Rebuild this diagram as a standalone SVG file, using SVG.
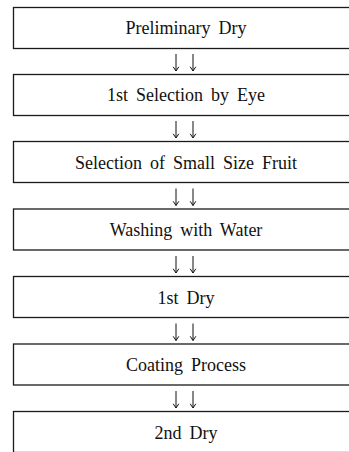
<svg xmlns="http://www.w3.org/2000/svg" width="349" height="452" viewBox="0 0 349 452">
  <style>
    .box { fill: #ffffff; stroke: #1a1a1a; stroke-width: 1.3; }
    .lbl { font-family: "Liberation Serif", "Times New Roman", serif; font-size: 18px; fill: #111111; text-anchor: middle; word-spacing: 3.5px; }
    .arr { stroke: #111111; stroke-width: 1; fill: none; }
  </style>
  <defs>
    <!-- small open V head, drawn pointing down (no rotation needed) -->
    <marker id="head" viewBox="0 0 8 6" refX="4" refY="5.2" markerWidth="8" markerHeight="6" markerUnits="userSpaceOnUse">
      <path d="M1.2,1 L4,5.2 L6.8,1" fill="none" stroke="#111111" stroke-width="1"/>
    </marker>
  </defs>
  <rect width="349" height="452" fill="#ffffff"/>

  <g id="n1"><rect class="box" x="13.5" y="7.5" width="350" height="41"/><text class="lbl" x="186" y="34">Preliminary Dry</text></g>
  <g id="n2"><rect class="box" x="13.5" y="74.5" width="350" height="41"/><text class="lbl" x="186" y="101">1st Selection by Eye</text></g>
  <g id="n3"><rect class="box" x="13.5" y="141.5" width="350" height="41"/><text class="lbl" x="186" y="168.5">Selection of Small Size Fruit</text></g>
  <g id="n4"><rect class="box" x="13.5" y="209" width="350" height="41"/><text class="lbl" x="186" y="236">Washing with Water</text></g>
  <g id="n5"><rect class="box" x="13.5" y="276.5" width="350" height="41"/><text class="lbl" x="186" y="303.5">1st Dry</text></g>
  <g id="n6"><rect class="box" x="13.5" y="344" width="350" height="41"/><text class="lbl" x="186" y="371">Coating Process</text></g>
  <g id="n7"><rect class="box" x="13.5" y="411.5" width="350" height="41"/><text class="lbl" x="186" y="438.5">2nd Dry</text></g>

  <!-- paired down-arrows between consecutive steps -->
  <g id="connectors">
    <line class="arr" marker-end="url(#head)" x1="176" y1="54" x2="176" y2="71"/>
    <line class="arr" marker-end="url(#head)" x1="193" y1="54" x2="193" y2="71"/>
    <line class="arr" marker-end="url(#head)" x1="176" y1="121" x2="176" y2="138"/>
    <line class="arr" marker-end="url(#head)" x1="193" y1="121" x2="193" y2="138"/>
    <line class="arr" marker-end="url(#head)" x1="176" y1="188.5" x2="176" y2="205.5"/>
    <line class="arr" marker-end="url(#head)" x1="193" y1="188.5" x2="193" y2="205.5"/>
    <line class="arr" marker-end="url(#head)" x1="176" y1="256" x2="176" y2="273"/>
    <line class="arr" marker-end="url(#head)" x1="193" y1="256" x2="193" y2="273"/>
    <line class="arr" marker-end="url(#head)" x1="176" y1="323.5" x2="176" y2="340.5"/>
    <line class="arr" marker-end="url(#head)" x1="193" y1="323.5" x2="193" y2="340.5"/>
    <line class="arr" marker-end="url(#head)" x1="176" y1="391" x2="176" y2="408"/>
    <line class="arr" marker-end="url(#head)" x1="193" y1="391" x2="193" y2="408"/>
  </g>
</svg>
